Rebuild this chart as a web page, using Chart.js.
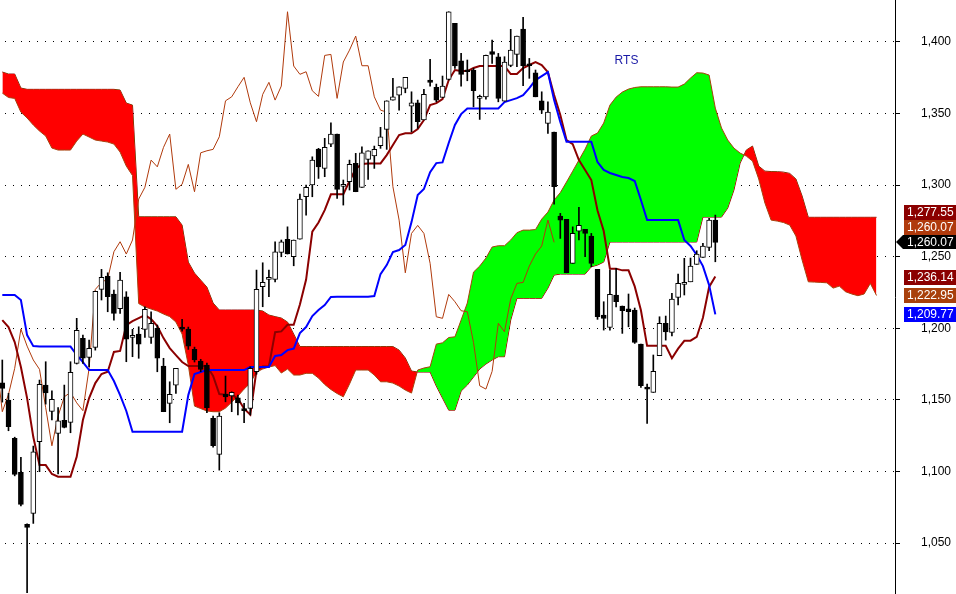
<!DOCTYPE html>
<html>
<head>
<meta charset="utf-8">
<title>RTS</title>
<script src="https://cdn.jsdelivr.net/npm/chart.js@4.4.1/dist/chart.umd.min.js"></script>
<style>
  html, body { margin: 0; padding: 0; background: #fff; }
  canvas { display: block; }
</style>
</head>
<body>
<canvas id="ichimoku" width="956" height="594"></canvas>
<script>
// candles (one per session)
const opens = [1162.0,1150.0,1123.2,1099.4,1063.1,1070.8,1120.8,1160.4,1142.0,1126.7,
  1135.8,1134.4,1175.6,1193.0,1179.7,1186.7,1227.2,1236.5,1224.0,1213.7,
  1222.1,1193.7,1196.0,1199.3,1193.7,1200.0,1173.7,1147.6,1160.4,1200.9,
  1199.5,1185.3,1177.2,1174.4,1137.2,1112.0,1153.9,1152.9,1151.5,1143.4,
  1144.1,1169.7,1229.1,1234.2,1234.2,1253.1,1262.2,1250.0,1262.2,1291.9,
  1300.1,1325.2,1311.7,1328.7,1335.7,1299.2,1302.4,1315.2,1298.5,1318.0,
  1320.5,1327.5,1339.0,1359.4,1362.9,1367.6,1355.2,1357.5,1345.5,1373.4,
  1368.3,1361.3,1373.9,1413.0,1386.9,1380.4,1380.4,1360.6,1361.7,1393.2,
  1389.6,1358.7,1383.7,1391.3,1409.0,1384.6,1378.5,1358.9,1343.2,1337.1,
  1278.4,1276.1,1245.4,1267.9,1269.1,1264.5,1241.2,1209.3,1200.7,1223.3,
  1215.6,1213.7,1212.8,1189.0,1157.9,1155.3,1180.9,1203.5,1197.2,1221.6,
  1230.7,1232.5,1244.7,1249.6,1256.6,1275.6];
const highs = [1177.9,1154.6,1124.0,1109.9,1063.5,1117.8,1163.9,1176.7,1156.4,1144.6,
  1160.4,1176.7,1207.0,1195.3,1191.8,1226.0,1241.2,1238.8,1226.7,1239.1,
  1225.6,1199.3,1201.1,1215.1,1211.6,1202.3,1179.1,1162.7,1172.1,1206.3,
  1200.9,1186.9,1178.4,1175.8,1138.8,1141.1,1166.7,1155.7,1153.4,1147.6,
  1173.2,1240.7,1245.8,1240.7,1260.5,1261.7,1270.9,1261.7,1293.8,1300.1,
  1319.8,1325.7,1332.7,1343.6,1335.7,1303.6,1317.5,1322.2,1326.8,1324.0,
  1327.3,1340.4,1358.9,1374.6,1368.7,1375.3,1365.2,1359.4,1366.9,1387.8,
  1370.6,1376.2,1421.1,1413.0,1392.0,1387.4,1381.6,1362.9,1390.9,1401.3,
  1392.0,1389.7,1408.8,1404.1,1417.2,1388.5,1380.4,1365.2,1358.2,1337.1,
  1280.3,1276.1,1270.9,1284.5,1269.1,1266.3,1241.2,1218.6,1240.7,1241.9,
  1215.6,1224.0,1214.2,1189.0,1161.1,1181.4,1208.1,1208.6,1224.4,1237.9,
  1248.9,1249.1,1254.2,1259.4,1276.8,1279.1];
const lows = [1148.5,1128.5,1097.0,1076.0,1015.4,1063.8,1099.9,1147.1,1136.0,1098.3,
  1130.5,1127.1,1175.1,1175.6,1173.2,1184.8,1219.8,1211.6,1205.8,1210.5,
  1176.7,1180.2,1179.1,1193.7,1189.5,1169.7,1141.8,1134.1,1154.6,1198.1,
  1185.3,1176.5,1169.7,1141.1,1117.1,1101.0,1148.7,1141.8,1139.5,1134.1,
  1139.5,1168.0,1215.1,1222.1,1232.5,1250.0,1251.9,1243.7,1262.2,1279.1,
  1291.9,1304.7,1305.9,1326.8,1290.8,1286.1,1296.6,1295.4,1298.5,1304.0,
  1311.7,1325.7,1325.0,1359.4,1352.4,1364.5,1337.3,1339.7,1345.5,1369.2,
  1358.2,1361.3,1373.4,1381.6,1369.2,1372.9,1354.7,1345.9,1360.0,1385.1,
  1358.2,1358.7,1382.7,1382.7,1369.4,1374.6,1361.7,1350.1,1336.2,1286.8,
  1262.8,1238.8,1245.4,1261.7,1250.0,1243.0,1206.3,1198.8,1198.8,1215.0,
  1196.5,1201.1,1189.5,1158.8,1133.7,1155.3,1180.9,1191.8,1194.8,1216.3,
  1223.3,1232.5,1244.7,1249.6,1254.2,1246.5];
const closes = [1158.1,1131.3,1098.0,1077.1,1061.0,1113.8,1160.9,1155.0,1150.4,1135.5,
  1130.9,1169.3,1198.6,1179.1,1186.0,1225.8,1235.6,1222.1,1210.5,1233.7,
  1192.5,1195.1,1189.0,1213.3,1203.5,1179.1,1141.8,1153.9,1172.1,1199.5,
  1187.6,1177.9,1171.4,1144.6,1118.0,1138.8,1152.2,1155.3,1148.0,1142.5,
  1172.1,1227.2,1232.1,1234.5,1253.5,1260.5,1251.9,1261.7,1290.3,1298.5,
  1317.5,1312.8,1326.4,1335.7,1297.1,1300.6,1314.5,1295.4,1322.6,1324.0,
  1325.0,1333.8,1358.9,1361.7,1368.7,1375.3,1357.5,1344.3,1363.4,1371.8,
  1359.4,1369.2,1421.1,1383.2,1377.4,1379.2,1365.9,1362.0,1390.6,1391.3,
  1360.6,1386.0,1394.3,1404.1,1383.4,1383.4,1361.7,1352.4,1351.0,1298.9,
  1275.6,1238.8,1266.3,1271.9,1266.3,1245.4,1208.1,1207.0,1223.7,1218.6,
  1212.3,1211.6,1190.2,1159.9,1157.6,1170.0,1203.5,1197.6,1220.5,1231.4,
  1232.1,1243.5,1251.9,1257.5,1275.6,1260.07];

// conversion line (tenkan) and base line (kijun), one value per candle
const tenkan = [1205.8,1200.9,1190.4,1173.0,1151.3,1124.1,1104.5,1104.5,1098.3,1096.4,
  1096.4,1096.4,1110.3,1136.0,1151.3,1161.8,1168.1,1169.7,1183.5,1184.2,
  1202.3,1205.1,1207.2,1209.3,1206.5,1201.6,1193.2,1186.2,1181.3,1176.5,
  1173.7,1173.7,1173.7,1173.7,1166.7,1154.1,1153.6,1153.6,1151.0,1143.9,
  1139.7,1170.9,1173.4,1173.4,1197.3,1197.9,1202.5,1202.5,1216.7,1234.1,
  1267.5,1273.9,1282.6,1293.6,1293.6,1293.6,1302.9,1311.3,1314.8,1315.2,
  1315.2,1315.2,1321.0,1328.0,1335.0,1336.2,1336.2,1339.2,1345.5,1355.9,
  1357.3,1360.1,1373.4,1380.4,1379.7,1379.7,1381.8,1383.2,1383.2,1383.2,
  1383.2,1383.2,1377.6,1377.6,1381.8,1383.9,1386.0,1383.9,1378.9,1362.9,
  1349.0,1331.5,1328.7,1317.5,1310.6,1303.6,1282.3,1268.0,1241.7,1241.7,
  1240.5,1240.5,1229.3,1212.6,1187.8,1187.8,1187.8,1187.8,1179.1,1185.8,
  1191.3,1191.4,1194.0,1207.4,1228.9,1236.14];
const kijun = [1223.3,1223.3,1223.3,1219.8,1195.3,1187.6,1187.3,1187.3,1187.3,1187.3,
  1187.3,1187.3,1181.4,1176.5,1170.9,1170.9,1170.9,1170.9,1163.2,1153.4,
  1142.3,1127.8,1127.8,1127.8,1127.8,1127.8,1127.8,1127.8,1127.8,1127.8,
  1153.4,1168.1,1169.5,1170.9,1170.9,1170.9,1170.9,1170.9,1170.9,1170.9,
  1173.0,1173.0,1173.0,1173.0,1180.7,1181.4,1184.8,1185.9,1196.7,1200.9,
  1208.6,1212.8,1216.3,1221.9,1222.1,1222.1,1222.1,1222.1,1222.1,1222.1,
  1222.6,1237.9,1244.2,1253.3,1254.7,1258.2,1274.2,1293.1,1297.3,1309.1,
  1315.4,1315.9,1329.4,1342.0,1349.6,1353.6,1353.6,1353.6,1353.6,1353.6,
  1353.6,1358.0,1359.4,1360.8,1362.9,1367.8,1373.4,1376.2,1378.9,1359.4,
  1344.1,1330.3,1330.3,1330.3,1330.3,1330.3,1316.1,1310.6,1308.5,1307.1,
  1305.7,1305.0,1302.9,1289.6,1275.6,1275.6,1275.6,1275.6,1275.6,1275.6,
  1261.7,1257.5,1251.2,1243.5,1230.2,1209.77];

// leading spans (cloud), 26 slots past the last candle
const spanA = [1364.3,1361.2,1360.6,1351.0,1346.9,1342.0,1337.8,1334.3,1325.9,1324.5,
  1324.5,1324.5,1330.8,1335.7,1333.6,1331.5,1330.8,1330.1,1328.7,1323.1,
  1313.3,1306.7,1217.3,1214.9,1213.5,1212.1,1210.0,1208.2,1204.4,1196.0,
  1174.4,1145.7,1144.0,1142.3,1141.8,1141.8,1144.3,1148.5,1152.7,1157.6,
  1161.8,1169.5,1171.6,1173.0,1174.0,1168.8,1171.6,1167.4,1167.4,1168.6,
  1168.6,1165.3,1160.8,1157.3,1154.5,1152.2,1161.1,1170.9,1170.9,1170.9,
  1167.4,1162.7,1162.7,1161.8,1159.7,1156.9,1154.8,1170.9,1172.3,1173.2,
  1189.0,1189.9,1193.6,1194.1,1205.8,1217.7,1239.3,1243.5,1249.1,1256.8,
  1257.7,1257.7,1261.7,1266.8,1268.6,1268.6,1269.0,1276.3,1281.2,1289.6,
  1294.8,1302.2,1309.8,1317.5,1325.2,1334.3,1336.4,1343.4,1355.9,1361.5,
  1365.0,1367.1,1368.2,1368.7,1368.7,1368.7,1368.7,1368.7,1368.5,1368.5,
  1370.6,1374.8,1378.5,1378.3,1376.9,1353.8,1339.9,1331.5,1325.9,1322.4,
  1320.3,1316.8,1304.3,1287.5,1275.6,1274.9,1273.9,1272.1,1264.5,1247.7,
  1232.5,1232.3,1232.1,1231.8,1228.1,1229.5,1225.6,1224.0,1222.8,1224.0,
  1231.4,1222.95];
const spanB = [1379.0,1377.6,1377.6,1367.8,1366.9,1366.9,1366.9,1366.9,1366.9,1366.9,
  1366.9,1366.9,1366.9,1366.9,1366.9,1366.9,1366.9,1366.9,1366.9,1366.4,
  1357.3,1355.9,1277.9,1277.9,1277.9,1277.9,1277.9,1277.9,1277.9,1272.1,
  1246.3,1238.6,1233.7,1228.8,1217.7,1212.8,1212.8,1212.8,1212.8,1212.8,
  1212.8,1212.8,1212.1,1209.3,1208.2,1207.2,1204.4,1196.0,1187.3,1187.3,
  1187.3,1187.3,1187.3,1187.3,1187.3,1187.3,1187.3,1187.3,1187.3,1187.3,
  1187.3,1187.3,1187.3,1187.3,1184.8,1179.3,1170.2,1169.5,1169.5,1169.5,
  1159.7,1151.3,1142.9,1142.9,1156.2,1160.4,1166.0,1171.6,1175.1,1177.9,
  1180.2,1180.2,1205.8,1221.0,1221.0,1221.0,1221.0,1221.0,1228.1,1237.2,
  1237.9,1237.9,1237.9,1237.9,1237.9,1243.0,1244.2,1246.3,1260.3,1260.3,
  1260.3,1260.3,1260.3,1260.3,1260.3,1260.3,1260.3,1260.3,1260.3,1260.3,
  1260.3,1260.3,1260.3,1277.7,1277.7,1277.7,1277.7,1284.0,1296.6,1315.4,
  1324.5,1327.3,1313.3,1309.8,1309.5,1309.4,1309.1,1308.2,1304.3,1292.4,
  1277.55,1277.55,1277.55,1277.55,1277.55,1277.55,1277.55,1277.55,1277.55,1277.55,
  1277.55,1277.55];

const yTicks = [1050, 1100, 1150, 1200, 1250, 1300, 1350, 1400];
const LAG = 26; // lagging span is the close drawn 26 sessions back

const C_TENKAN = '#8b0000';
const C_KIJUN = '#0000ff';
const C_CHIKOU = '#b03a0c';
const C_SPAN_A = '#a8400c';
const C_SPAN_B = '#8b0000';

const last = closes.length - 1;
// value tags on the right edge, top to bottom
const tagValues = [spanB[spanB.length - 1], closes[last], closes[last], tenkan[last], spanA[spanA.length - 1], kijun[last]];
const tagColors = [C_SPAN_B, C_CHIKOU, '#000000', C_TENKAN, C_SPAN_A, C_KIJUN];
const LAST_TAG = 2;

const pts = arr => arr.map((v, i) => ({ x: i, y: v }));
const wickData = closes.map((c, i) => ({ x: i, y: [lows[i], highs[i]] }));
const bodyData = closes.map((c, i) => ({ x: i, y: [opens[i], c] }));
const bodyFill = closes.map((c, i) => (c >= opens[i] ? '#ffffff' : '#000000'));
const chikouData = closes.map((c, i) => ({ x: i - LAG, y: c })).filter(p => p.x >= -1);

const FONT = 'Arial, "Liberation Sans", sans-serif';
Chart.defaults.font.family = FONT;
Chart.defaults.font.size = 12;
Chart.defaults.color = '#000';

const TAG_H = 15;
const tagPlugin = {
  id: 'priceTags',
  afterDraw(chart) {
    const ctx = chart.ctx;
    const yScale = chart.scales.y;
    const axisX = yScale.left;
    const right = chart.width;
    const tags = tagValues.map((v, k) => ({ v, y: yScale.getPixelForValue(v), color: tagColors[k] }));
    // keep tags from overlapping, the last price stays put
    for (let k = LAST_TAG - 1; k >= 0; k--) tags[k].y = Math.min(tags[k].y, tags[k + 1].y - TAG_H);
    for (let k = LAST_TAG + 1; k < tags.length; k++) tags[k].y = Math.max(tags[k].y, tags[k - 1].y + TAG_H);

    ctx.save();
    ctx.font = '12px ' + FONT;
    ctx.textBaseline = 'middle';
    ctx.textAlign = 'left';
    tags.forEach((t, k) => {
      const y = Math.round(t.y);
      ctx.fillStyle = t.color;
      if (k === LAST_TAG) {
        ctx.beginPath();
        ctx.moveTo(axisX + 1, y);
        ctx.lineTo(axisX + 8, y - 7);
        ctx.lineTo(right, y - 7);
        ctx.lineTo(right, y + 7);
        ctx.lineTo(axisX + 8, y + 7);
        ctx.closePath();
        ctx.fill();
      } else {
        ctx.fillRect(axisX + 9, y - 7, right - axisX - 9, 15);
      }
      ctx.fillStyle = '#ffffff';
      const txt = t.v.toLocaleString('en-US', { minimumFractionDigits: 2, maximumFractionDigits: 2 });
      ctx.fillText(txt, axisX + 12, y + 1);
    });

    // instrument name
    ctx.fillStyle = '#1a1aa6';
    ctx.textAlign = 'center';
    ctx.fillText('RTS', chart.chartArea.left + chart.chartArea.width * 0.7, 61);
    ctx.restore();
  }
};

new Chart(document.getElementById('ichimoku'), {
  type: 'bar',
  data: {
    datasets: [
      {
        type: 'bar', label: 'Body', data: bodyData, order: 0,
        backgroundColor: bodyFill, borderColor: '#000', borderWidth: 1,
        borderSkipped: false, barThickness: 5, grouped: false, minBarLength: 2
      },
      {
        type: 'bar', label: 'Wick', data: wickData, order: 1,
        backgroundColor: '#000', borderWidth: 0, barThickness: 1, grouped: false
      },
      {
        type: 'line', label: 'Kijun', data: pts(kijun), order: 2,
        borderColor: C_KIJUN, borderWidth: 2, pointRadius: 0, tension: 0, fill: false
      },
      {
        type: 'line', label: 'Tenkan', data: pts(tenkan), order: 3,
        borderColor: C_TENKAN, borderWidth: 2, pointRadius: 0, tension: 0, fill: false
      },
      {
        type: 'line', label: 'Chikou', data: chikouData, order: 4,
        borderColor: C_CHIKOU, borderWidth: 1, pointRadius: 0, tension: 0, fill: false
      },
      {
        type: 'line', label: 'Senkou A', data: pts(spanA), order: 5,
        borderColor: C_SPAN_A, borderWidth: 1, pointRadius: 0, tension: 0,
        fill: { target: '+1', above: '#00ff00', below: '#ff0000' }
      },
      {
        type: 'line', label: 'Senkou B', data: pts(spanB), order: 6,
        borderColor: C_SPAN_B, borderWidth: 1, pointRadius: 0, tension: 0, fill: false
      }
    ]
  },
  options: {
    responsive: false,
    animation: false,
    events: [],
    layout: { padding: 0 },
    plugins: { legend: { display: false }, tooltip: { enabled: false } },
    scales: {
      x: {
        type: 'linear', min: -0.371, max: 143.98, offset: false, display: false
      },
      y: {
        type: 'linear', position: 'right', min: 1014.5, max: 1429.3,
        afterBuildTicks: s => { s.ticks = yTicks.map(v => ({ value: v })); },
        afterFit: s => { s.width = 61; s.paddingTop = 0; s.paddingBottom = 0; },
        ticks: {
          padding: 21,
          color: '#000',
          font: { size: 12 },
          callback: v => v.toLocaleString('en-US')
        },
        grid: {
          color: '#000', lineWidth: 1, drawTicks: true, tickLength: 5,
          tickColor: '#000', tickBorderDash: []
        },
        border: { display: true, color: '#000', width: 1, dash: [1, 7], dashOffset: 3 }
      }
    }
  },
  plugins: [tagPlugin]
});
</script>
</body>
</html>
